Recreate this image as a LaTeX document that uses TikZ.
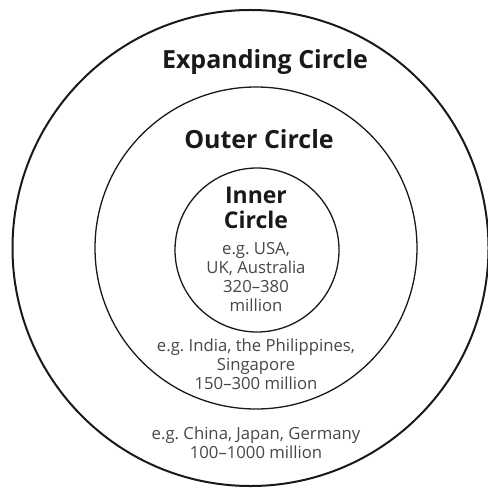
\documentclass[tikz,border=0pt]{standalone}
\usepackage{fontspec}
\setmainfont{Open Sans}
\frenchspacing
\begin{document}
\begin{tikzpicture}[x=1bp, y=-1bp]
% Kachru's three circles, drawn in pixel units
\providecommand{\ringColor}{black!90}
\providecommand{\noteColor}{black!72}
\tikzset{
  ring/.style={draw=\ringColor, line width=1.3bp},
  title/.style={font=\fontsize{25bp}{25bp}\selectfont\bfseries, text=\ringColor, align=center, inner sep=0pt},
  note/.style={font=\fontsize{16.7bp}{19bp}\selectfont, text=\noteColor, align=center, inner sep=0pt}
}
\useasboundingbox (0,0) rectangle (488,489);
\fill[white] (0,0) rectangle (488,489);
% Rings
\draw[ring, line width=2bp] (250.5,248) circle[radius=238];
\draw[ring] (256,248) circle[radius=161];
\draw[ring] (257,250) circle[radius=82];
% Titles
\node[title] (expanding) at (265,62) {Expanding Circle};
\node[title] (outer) at (259,139) {Outer Circle};
\node[title, font=\fontsize{23bp}{25bp}\selectfont\bfseries] (inner) at (256,208) {Inner\\Circle};
% Notes
\node[note] (innernote) at (256,277) {e.g. USA,\\UK, Australia\\320--380\\million};
\node[note] (outernote) at (256,364) {e.g. India, the Philippines,\\Singapore\\150--300 million};
\node[note] (expandnote) at (256,443) {e.g. China, Japan, Germany\\100--1000 million};
\end{tikzpicture}
\end{document}
